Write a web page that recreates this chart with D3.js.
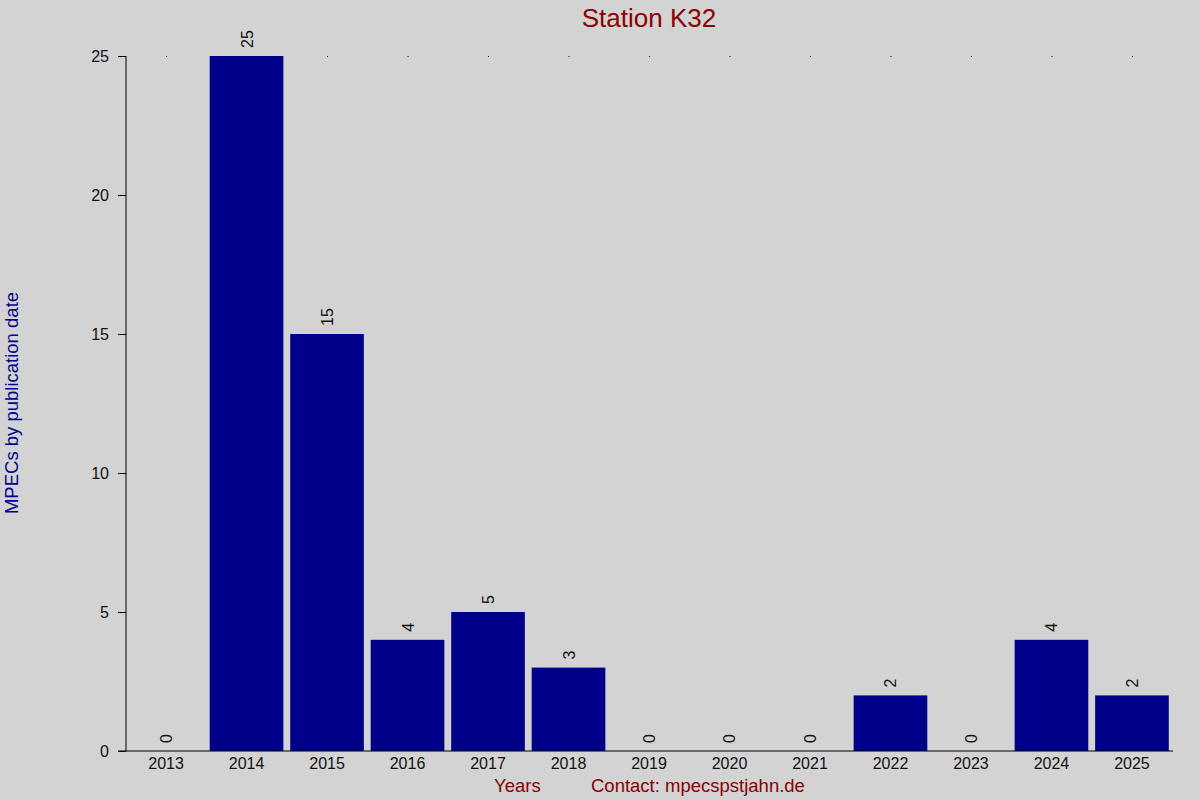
<!DOCTYPE html>
<html>
<head>
<meta charset="utf-8">
<script src="https://cdn.jsdelivr.net/npm/d3@7"></script>
<style>
  body { margin: 0; background: #d3d3d3; }
  svg { display: block; font-family: "Liberation Sans", Arial, sans-serif; }
</style>
</head>
<body>
<div id="app"></div>
<script>
const years = ["2013", "2014", "2015", "2016", "2017", "2018", "2019", "2020", "2021", "2022", "2023", "2024", "2025"];
const counts = [0, 25, 15, 4, 5, 3, 0, 0, 0, 2, 0, 4, 2];
const yTicks = [0, 5, 10, 15, 20, 25];

const width = 1200;
const height = 800;
const plotLeft = 126;
const plotRight = 1172;
const plotTop = 56;
const plotBottom = 751;

const svg = d3
  .select("#app")
  .append("svg")
  .attr("width", width)
  .attr("height", height);

svg.append("rect").attr("width", width).attr("height", height).attr("fill", "#d3d3d3");

const xScale = d3.scaleBand().domain(years).range([plotLeft, plotRight]).paddingInner(0.085).paddingOuter(0.04);
const yScale = d3.scaleLinear().domain([0, 25]).range([plotBottom, plotTop]);

// bars
svg
  .selectAll(".bar")
  .data(years)
  .enter()
  .append("rect")
  .attr("class", "bar")
  .attr("x", (d) => xScale(d))
  .attr("y", (d, i) => yScale(counts[i]))
  .attr("width", xScale.bandwidth())
  .attr("height", (d, i) => plotBottom - yScale(counts[i]))
  .attr("fill", "#00008b");

// value labels, rotated above each bar
svg
  .selectAll(".val")
  .data(years)
  .enter()
  .append("text")
  .attr("class", "val")
  .attr("transform", (d, i) => `translate(${xScale(d) + xScale.bandwidth() / 2 + 6}, ${yScale(counts[i]) - 8}) rotate(-90)`)
  .attr("font-size", 16)
  .attr("fill", "#111")
  .text((d, i) => counts[i]);

// small dots at top for each category
svg
  .selectAll(".dot")
  .data(years)
  .enter()
  .append("rect")
  .attr("class", "dot")
  .attr("x", (d) => xScale(d) + xScale.bandwidth() / 2)
  .attr("y", plotTop)
  .attr("width", 1)
  .attr("height", 1)
  .attr("fill", "#000");

// y axis
const yAxis = d3.axisLeft(yScale).tickValues(yTicks).tickSize(8).tickPadding(9);
const gy = svg.append("g").attr("transform", `translate(${plotLeft}, 0)`).call(yAxis);
gy.select(".domain").attr("d", `M0,${plotTop}V${plotBottom}`).attr("stroke", "#000");
gy.selectAll("text").attr("font-size", 16).attr("font-family", "Liberation Sans, Arial, sans-serif").attr("fill", "#111");

// x axis
const xAxis = d3.axisBottom(xScale).tickSize(0).tickPadding(7);
const gx = svg.append("g").attr("transform", `translate(0, ${plotBottom})`).call(xAxis);
gx.select(".domain").attr("d", `M${plotLeft - 8},0H${plotRight + 1}`).attr("stroke", "#000");
gx.selectAll("text").attr("font-size", 16).attr("font-family", "Liberation Sans, Arial, sans-serif").attr("fill", "#111");

// title
svg
  .append("text")
  .attr("x", 649)
  .attr("y", 27)
  .attr("text-anchor", "middle")
  .attr("font-size", 26)
  .attr("fill", "#8b0000")
  .text("Station K32");

// y label
svg
  .append("text")
  .attr("transform", "translate(18, 403) rotate(-90)")
  .attr("text-anchor", "middle")
  .attr("font-size", 18.5)
  .attr("fill", "#00008b")
  .text("MPECs by publication date");

// x labels
svg
  .append("text")
  .attr("x", 494)
  .attr("y", 792)
  .attr("font-size", 18.5)
  .attr("fill", "#8b0000")
  .text("Years");

svg
  .append("text")
  .attr("x", 591)
  .attr("y", 792)
  .attr("font-size", 18.5)
  .attr("fill", "#8b0000")
  .text("Contact: mpecspstjahn.de");
</script>
</body>
</html>
